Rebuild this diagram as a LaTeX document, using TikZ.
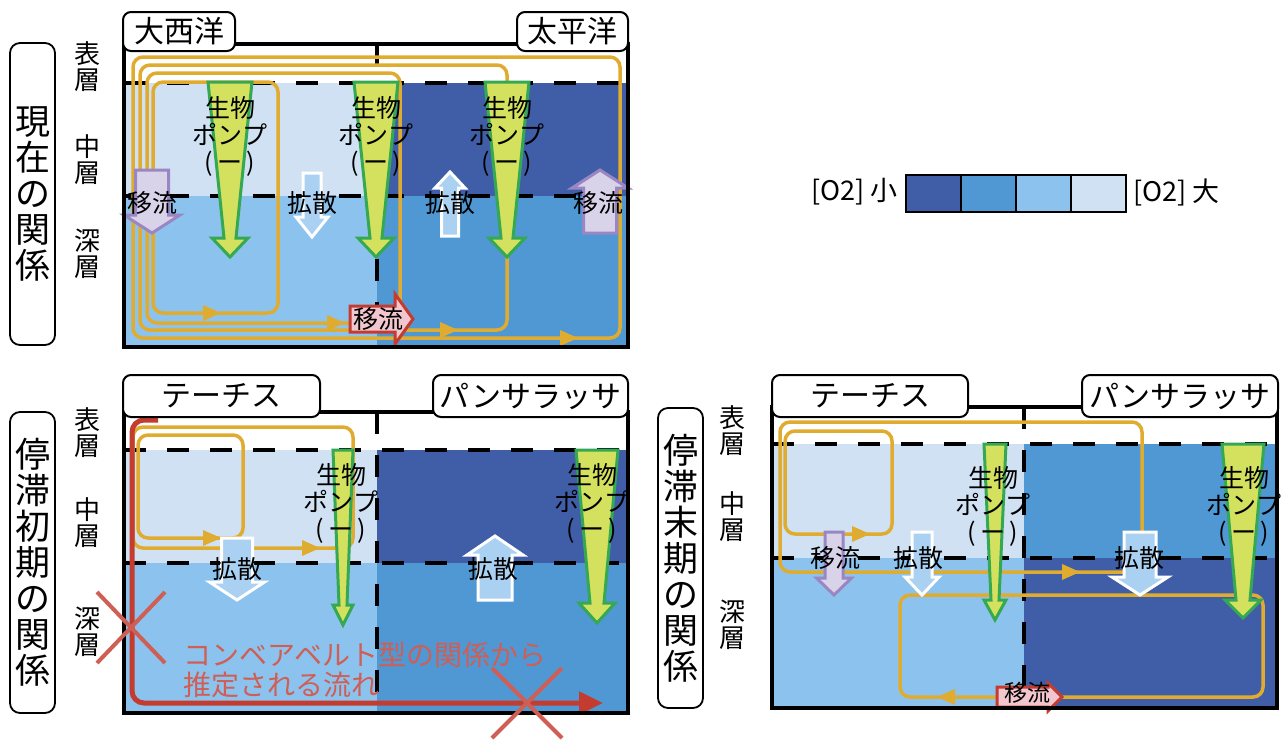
\documentclass[tikz,border=0pt]{standalone}
\usepackage{fontspec}
\setmainfont{Noto Sans CJK JP}
\usetikzlibrary{arrows.meta}
\definecolor{cA}{RGB}{64,94,168}
\definecolor{cB}{RGB}{79,152,212}
\definecolor{cC}{RGB}{140,195,238}
\definecolor{cD}{RGB}{207,225,243}
\definecolor{ocol}{RGB}{224,172,48}
\definecolor{pfill}{RGB}{212,225,94}
\definecolor{pgreen}{RGB}{52,168,83}
\definecolor{purS}{RGB}{154,134,194}
\definecolor{purF}{RGB}{217,211,234}
\definecolor{difF}{RGB}{170,209,242}
\definecolor{redS}{RGB}{196,59,48}
\definecolor{pinkF}{RGB}{242,198,207}
\definecolor{redX}{RGB}{207,94,84}
\newcommand{\mypump}[7]{\filldraw[pumpst] ({#1-#3/2},#2) -- ({#1-#5/2},#4) -- ({#1-#6/2},#4) -- (#1,#7) -- ({#1+#6/2},#4) -- ({#1+#5/2},#4) -- ({#1+#3/2},#2) -- cycle;}
\newcommand{\myblk}[7]{\filldraw[#1] ({#2-#6/2},#3) -- ({#2-#6/2},#4) -- ({#2-#7/2},#4) -- (#2,#5) -- ({#2+#7/2},#4) -- ({#2+#6/2},#4) -- ({#2+#6/2},#3) -- cycle;}
\newcommand{\myharrow}[7]{\filldraw[#1] (#2,{#5-#6/2}) -- (#3,{#5-#6/2}) -- (#3,{#5-#7/2}) -- (#4,#5) -- (#3,{#5+#7/2}) -- (#3,{#5+#6/2}) -- (#2,{#5+#6/2}) -- cycle;}
\newcommand{\myotri}[3]{\fill[ocol] (#1,{#2-8}) -- ({#1+18*#3},#2) -- (#1,{#2+8}) -- cycle;}
\newcommand{\pmptxt}{生物\\ポンプ\\(\,ー\,)}
\tikzset{
  pumpst/.style={fill=pfill, draw=pgreen, line width=3pt, line join=miter},
  purst/.style={fill=purF, draw=purS, line width=3pt},
  difst/.style={fill=difF, draw=white, line width=3pt},
  redst/.style={fill=pinkF, draw=redS, line width=3pt},
  oline/.style={draw=ocol, line width=3.5pt, rounded corners=10pt},
  dline/.style={black, line width=3.5pt, dash pattern=on 22pt off 21pt},
  boxline/.style={black, line width=3.5pt},
  tab/.style={draw=black, line width=2pt, fill=white, rounded corners=8pt, inner sep=0pt, font=\fontsize{30}{32}\selectfont},
  side/.style={draw=black, line width=1.8pt, fill=white, rounded corners=10pt, inner sep=0pt, align=center, minimum width=45pt, font=\fontsize{35}{36}\selectfont},
  layer/.style={inner sep=0pt, align=center, font=\fontsize{26}{26}\selectfont},
  plbl/.style={inner sep=0pt, align=center, font=\fontsize{25}{27}\selectfont},
  albl/.style={inner sep=0pt, font=\fontsize{25}{27}\selectfont},
  lgl/.style={inner sep=0pt, font=\fontsize{27}{29}\selectfont},
  redline/.style={draw=redS, line width=5pt, rounded corners=12pt},
  xline/.style={draw=redX, line width=4pt}
}
\begin{document}
\begin{tikzpicture}[x=1pt,y=-1pt]
\useasboundingbox (0,0) rectangle (1282,740);
% ================= Panel 1 =================
\fill[cD] (124,83) rectangle (377,196);
\fill[cA] (377,83) rectangle (628,196);
\fill[cC] (124,196) rectangle (377,347);
\fill[cB] (377,196) rectangle (628,347);
\draw[dline] (124,83) -- (628,83);
\draw[dline] (124,196) -- (628,196);
\draw[dline] (377,44) -- (377,347);
\draw[oline] (153,82) rectangle (278,313);
\draw[oline] (147,73) rectangle (400,323);
\draw[oline] (140,65) rectangle (507,330);
\draw[oline] (133,57) rectangle (620,338);
\myotri{203}{313}{1}
\myotri{327}{323}{1}
\myotri{440}{330}{1}
\myotri{560}{338}{1}
\mypump{230}{82}{44}{238}{12}{36}{257}
\mypump{376}{82}{44}{238}{12}{36}{257}
\mypump{507}{82}{44}{238}{12}{36}{257}
\myblk{purst}{152}{170}{215}{233}{33}{56}
\myblk{purst}{600}{233}{188}{170}{33}{56}
\myblk{difst}{312}{173}{217}{237}{18}{32}
\myblk{difst}{450}{236}{188}{172}{17}{30}
\myharrow{redst}{350}{395}{413}{319}{26}{50}
\draw[boxline] (124,44) rectangle (628,347);
\node[tab, minimum width=112pt, minimum height=39pt] (t1a) at (179,31.5) {大西洋};
\node[tab, minimum width=111pt, minimum height=39pt] (t1b) at (572.5,31.5) {太平洋};
\node[side, minimum height=302pt] (s1) at (32.5,194) {現\\在\\の\\関\\係};
\node[layer] (l1a) at (87,67) {表\\層};
\node[layer] (l1b) at (87,160) {中\\層};
\node[layer] (l1c) at (87,254) {深\\層};
\node[plbl] (p1a) at (230,136) {\pmptxt};
\node[plbl] (p1b) at (376,136) {\pmptxt};
\node[plbl] (p1c) at (507,136) {\pmptxt};
\node[albl] (m1a) at (152,203) {移流};
\node[albl] (m1b) at (598,203) {移流};
\node[albl] (d1a) at (312,203) {拡散};
\node[albl] (d1b) at (450,203) {拡散};
\node[albl] (r1) at (378,319) {移流};
% ================= Legend =================
\filldraw[fill=cA, draw=black, line width=1.5pt] (906,175) rectangle (961,212);
\filldraw[fill=cB, draw=black, line width=1.5pt] (961,175) rectangle (1016,212);
\filldraw[fill=cC, draw=black, line width=1.5pt] (1016,175) rectangle (1071,212);
\filldraw[fill=cD, draw=black, line width=1.5pt] (1071,175) rectangle (1126,212);
\node[lgl, anchor=east] (lg1) at (898,192) {[O2] 小};
\node[lgl, anchor=west] (lg2) at (1133,192) {[O2] 大};
% ================= Panel 2 =================
\fill[cD] (124,450) rectangle (377,563);
\fill[cA] (377,450) rectangle (628,563);
\fill[cC] (124,563) rectangle (377,713);
\fill[cB] (377,563) rectangle (628,713);
\draw[dline] (124,450) -- (628,450);
\draw[dline] (124,563) -- (628,563);
\draw[dline] (377,412) -- (377,713);
\draw[oline] (138,435) rectangle (243,538);
\draw[oline] (133,427) rectangle (353,548);
\myotri{203}{538}{1}
\myotri{302}{548}{1}
\mypump{343}{450}{20}{605}{8}{20}{625}
\mypump{597}{450}{42}{603}{14}{36}{623}
\myblk{difst}{237}{538}{582}{600}{31}{55}
\myblk{difst}{495}{600}{555}{536}{34}{56}
\draw[redline, -{Triangle[length=24pt,width=22pt]}] (158,420) -- (132,420) -- (132,703) -- (603,703);
\draw[boxline] (124,412) rectangle (628,713);
\node[tab, minimum width=197pt, minimum height=42pt] (t2a) at (221.5,396) {テーチス};
\node[tab, minimum width=195pt, minimum height=42pt] (t2b) at (530.5,396) {パンサラッサ};
\node[side, minimum height=301pt] (s2) at (32.5,562.5) {停\\滞\\初\\期\\の\\関\\係};
\node[layer] (l2a) at (87,433) {表\\層};
\node[layer] (l2b) at (87,523) {中\\層};
\node[layer] (l2c) at (87,632) {深\\層};
\node[plbl] (p2a) at (341,503) {\pmptxt};
\node[plbl] (p2b) at (592,503) {\pmptxt};
\node[albl] (d2a) at (237,569) {拡散};
\node[albl] (d2b) at (493,569) {拡散};
\node[inner sep=0pt, anchor=west, align=left, text=redX, font=\fontsize{28}{30}\selectfont] (rt) at (183,670) {コンベアベルト型の関係から\\推定される流れ};
\draw[xline] (97,592) -- (165,663);
\draw[xline] (97,663) -- (165,592);
\draw[xline] (492,668) -- (562,738);
\draw[xline] (492,738) -- (562,668);
% ================= Panel 3 =================
\fill[cD] (772,444) rectangle (1024,558);
\fill[cB] (1024,444) rectangle (1277,558);
\fill[cC] (772,558) rectangle (1024,708);
\fill[cA] (1024,558) rectangle (1277,708);
\draw[dline] (772,444) -- (1277,444);
\draw[dline] (772,558) -- (1277,558);
\draw[dline] (1024,407) -- (1024,708);
\draw[oline] (785,431) rectangle (892,534);
\draw[oline] (1142,533) -- (1142,422) -- (780,422) -- (780,572) -- (1125,572);
\draw[oline] (900,595) rectangle (1263,697);
\myotri{852}{534}{1}
\myotri{1062}{572}{1}
\myotri{955}{697}{-1}
\mypump{995}{444}{22}{600}{8}{22}{620}
\mypump{1243}{444}{42}{600}{14}{36}{618}
\myblk{purst}{834}{532}{578}{595}{18}{35}
\myblk{difst}{922}{532}{577}{595}{20}{34}
\myblk{difst}{1140}{532}{577}{595}{32}{56}
\myharrow{redst}{997}{1048}{1062}{697}{20}{28}
\draw[boxline] (772,407) rectangle (1277,708);
\node[tab, minimum width=196pt, minimum height=42pt] (t3a) at (870,396) {テーチス};
\node[tab, minimum width=196pt, minimum height=42pt] (t3b) at (1180,396) {パンサラッサ};
\node[side, minimum height=300pt] (s3) at (680.5,558) {停\\滞\\末\\期\\の\\関\\係};
\node[layer] (l3a) at (732,431) {表\\層};
\node[layer] (l3b) at (732,517) {中\\層};
\node[layer] (l3c) at (732,625) {深\\層};
\node[plbl] (p3a) at (993,506) {\pmptxt};
\node[plbl] (p3b) at (1244,506) {\pmptxt};
\node[albl] (m3a) at (835,558) {移流};
\node[albl] (d3a) at (918,558) {拡散};
\node[albl] (d3b) at (1139,558) {拡散};
\node[albl, font=\fontsize{23}{25}\selectfont] (r3) at (1027,693) {移流};
\end{tikzpicture}
\end{document}
